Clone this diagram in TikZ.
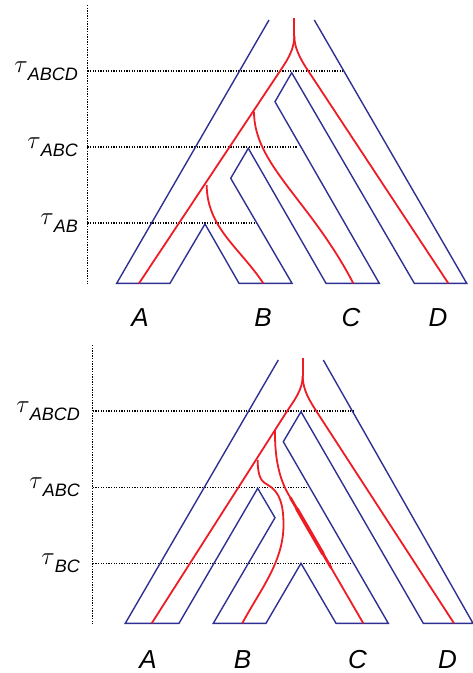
\documentclass[tikz,border=0pt]{standalone}
\usepackage{fontspec}
\setmainfont{Liberation Sans}
\definecolor{treeblue}{HTML}{2E3192}
\definecolor{genered}{HTML}{EE1C24}
\newcommand\taulab[1]{\fontsize{25}{25}\selectfont$\tau$\raisebox{-8pt}{\fontsize{18}{18}\selectfont\itshape #1}}
\begin{document}
\begin{tikzpicture}[x=1pt,y=-1pt,
  species/.style={draw=treeblue, line width=1.4pt, line join=miter},
  gene/.style={draw=genered, line width=1.8pt},
  timeline/.style={draw=black, line width=1.3pt, dash pattern=on 1.3pt off 1.3pt},
  tiplabel/.style={font=\fontsize{26}{26}\selectfont\itshape, anchor=base, inner sep=0pt},
  taulabel/.style={anchor=base east, inner sep=0pt}]
\useasboundingbox (0,0) rectangle (473,673);

% ---------------- top panel ----------------
\draw[timeline] (87.3,5) -- (87.3,284);
\draw[timeline] (87.3,71) -- (343,71);
\draw[timeline] (87.3,147) -- (297,147);
\draw[timeline] (87.3,223) -- (257,223);
\node[taulabel] (tABCDtop) at (78,72) {\taulab{ABCD}};
\node[taulabel] (tABCtop) at (78,148) {\taulab{ABC}};
\node[taulabel] (tABtop) at (78,224) {\taulab{AB}};

\draw[species] (269,20) -- (116.7,283.3) -- (170,283.3) -- (205,224) -- (239,283.3)
  -- (292,283.3) -- (230.7,178.3) -- (248.3,148.3) -- (326,283.3) -- (379.3,283.3)
  -- (275,101.7) -- (291.7,72.7) -- (414.3,283.3) -- (466.7,283.3) -- (314.3,20);

\draw[gene] (294.3,18) -- (294.3,36);
\draw[gene] (294.3,36) .. controls (294.3,48) and (289,58) .. (280,71) -- (139,283.3);
\draw[gene] (294.3,36) .. controls (294.3,48) and (300.5,59.5) .. (308.3,71) -- (448.3,283.3);
\draw[gene] (254,111.7) .. controls (254,165) and (310,200) .. (353.3,283.3);
\draw[gene] (206.7,185) .. controls (207,228) and (240,248) .. (263.3,283.3);

\node[tiplabel] (Atop) at (140,326.7) {A};
\node[tiplabel] (Btop) at (263,326.7) {B};
\node[tiplabel] (Ctop) at (351,326.7) {C};
\node[tiplabel] (Dtop) at (438,326.7) {D};

% ---------------- bottom panel ----------------
\draw[timeline] (92.7,345) -- (92.7,624);
\draw[timeline] (92.7,411) -- (353.3,411);
\draw[timeline] (92.7,487.3) -- (308.3,487.3);
\draw[timeline] (92.7,563.3) -- (353.3,563.3);
\node[taulabel] (tABCDbot) at (80,412) {\taulab{ABCD}};
\node[taulabel] (tABCbot) at (80,488.3) {\taulab{ABC}};
\node[taulabel] (tBCbot) at (80,564.3) {\taulab{BC}};

\draw[species] (278.3,360) -- (125.3,623.3) -- (179,623.3) -- (257.7,488.3) -- (275,517.7)
  -- (213.3,623.3) -- (266,623.3) -- (301,563.3) -- (336,623.3) -- (388.3,623.3)
  -- (283.3,441.7) -- (301,411.7) -- (423.3,623.3) -- (473,623.3) -- (323.3,360);

\draw[gene] (302.7,358) -- (302.7,376);
\draw[gene] (302.7,376) .. controls (302.7,390) and (294,400.5) .. (286.7,411.7) -- (151.7,623.3);
\draw[gene] (302.7,376) .. controls (302.7,390) and (310,401.3) .. (316.7,411.7) -- (454,623.3);
\draw[gene] (275,430) .. controls (274.5,465) and (282,484) .. (290,497) -- (363.3,623.3);
\draw[gene, line width=2.7pt, line cap=round] (290.5,497.9) -- (331,567.6);
\draw[gene, line width=3.6pt, line cap=round] (297,509) -- (323,553.9);
\draw[gene] (257.7,460) .. controls (257.7,478) and (262,482) .. (268,485)
  .. controls (280,492) and (283.5,505) .. (283.5,525)
  .. controls (283.5,562) and (260,590) .. (242.3,623.3);

\node[tiplabel] (Abot) at (148,668.5) {A};
\node[tiplabel] (Bbot) at (242.5,668.5) {B};
\node[tiplabel] (Cbot) at (357.5,668.5) {C};
\node[tiplabel] (Dbot) at (447.5,668.5) {D};
\end{tikzpicture}
\end{document}
